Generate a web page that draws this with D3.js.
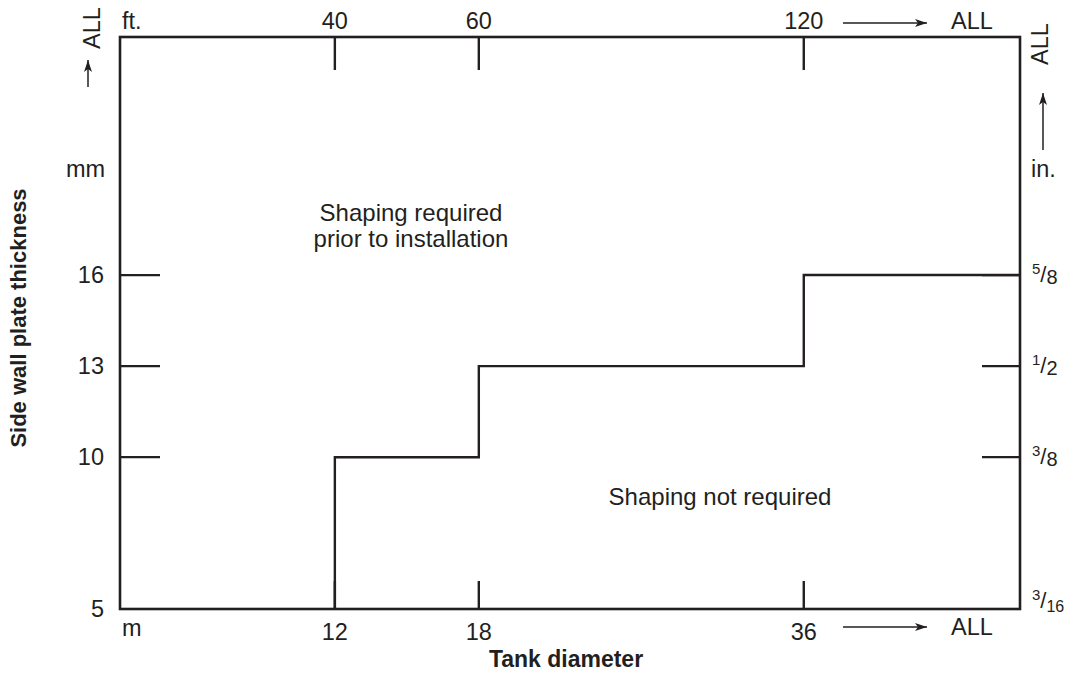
<!DOCTYPE html>
<html><head><meta charset="utf-8">
<script src="https://cdn.jsdelivr.net/npm/d3@7"></script>
<style>
body{margin:0;background:#fff;}
text{font-family:"Liberation Sans",Arial,Helvetica,sans-serif;fill:#231f20;}
</style></head>
<body><svg id="c" width="1068" height="673"></svg>
<script>
// ---- data ----
const diameterM = [12, 18, 36];            // step thresholds (m)
const diameterFt = ["40", "60", "120"];    // top-axis labels (ft)
const thicknessMm = [10, 13, 16];          // step thickness (mm)
const yTickMm = [5, 10, 13, 16];
const yTickIn = [["3","16"], ["3","8"], ["1","2"], ["5","8"]];
const xDomain = [5.3, 51.4];
const yDomain = [5, 23.84];

const W = 1068, H = 673;
const m = {l:120, r:48, t:37, b:64};
const svg = d3.select("#c");
const ink = "#231f20";

const x = d3.scalePow().exponent(0.5).domain(xDomain).range([m.l, W - m.r]);
const y = d3.scaleLinear().domain(yDomain).range([H - m.b, m.t]);
const x0 = x.range()[0], x1 = x.range()[1], y0 = y.range()[0], y1 = y.range()[1];

// frame
svg.append("rect").attr("x", x0).attr("y", y1).attr("width", x1 - x0).attr("height", y0 - y1)
  .attr("fill", "none").attr("stroke", ink).attr("stroke-width", 2.6);

// left ticks (inward)
svg.append("g").selectAll("line").data(thicknessMm).join("line")
  .attr("x1", x0).attr("x2", x0 + 40).attr("y1", d => y(d)).attr("y2", d => y(d))
  .attr("stroke", ink).attr("stroke-width", 2.2);
// right ticks (inward)
svg.append("g").selectAll("line").data(thicknessMm).join("line")
  .attr("x1", x1 - 38).attr("x2", x1).attr("y1", d => y(d)).attr("y2", d => y(d))
  .attr("stroke", ink).attr("stroke-width", 2.2);
// top ticks
svg.append("g").selectAll("line").data(diameterM).join("line")
  .attr("x1", d => x(d)).attr("x2", d => x(d)).attr("y1", y1).attr("y2", y1 + 33)
  .attr("stroke", ink).attr("stroke-width", 2.4);
// bottom ticks
svg.append("g").selectAll("line").data(diameterM).join("line")
  .attr("x1", d => x(d)).attr("x2", d => x(d)).attr("y1", y0).attr("y2", y0 - 28)
  .attr("stroke", ink).attr("stroke-width", 2.4);

// step line
const pts = [[diameterM[0], yDomain[0]]].concat(diameterM.map((d, i) => [d, thicknessMm[i]]))
  .concat([[xDomain[1], thicknessMm[thicknessMm.length - 1]]]);
const line = d3.line().x(d => x(d[0])).y(d => y(d[1])).curve(d3.curveStepAfter);
svg.append("path").attr("d", line(pts)).attr("fill", "none").attr("stroke", ink).attr("stroke-width", 2.4);

// arrow marker
svg.append("defs").append("marker").attr("id", "ah").attr("viewBox", "0 0 12 8")
  .attr("refX", 12).attr("refY", 4).attr("markerWidth", 12).attr("markerHeight", 8)
  .attr("markerUnits", "userSpaceOnUse").attr("orient", "auto")
  .append("path").attr("d", "M0,0L12,4L0,8L3,4Z").attr("fill", ink);

const fs = 23.5;
// left mm labels
svg.append("g").selectAll("text").data(yTickMm).join("text")
  .attr("x", 104).attr("y", d => y(d)).attr("dy", "0.35em").attr("text-anchor", "end")
  .attr("font-size", fs).text(d => d);
svg.append("text").attr("x", 66).attr("y", y(19.5)).attr("dy", "0.35em").attr("font-size", fs).text("mm");
// left ALL + arrow
svg.append("text").attr("transform", `translate(100,28) rotate(-90)`).attr("text-anchor", "middle")
  .attr("font-size", fs).text("ALL");
svg.append("line").attr("x1", 88).attr("x2", 88).attr("y1", 87).attr("y2", 60)
  .attr("stroke", ink).attr("stroke-width", 1.5).attr("marker-end", "url(#ah)");

// right in labels (fractions)
const rt = svg.append("g").selectAll("text").data(yTickMm).join("text")
  .attr("x", 1032).attr("y", (d, i) => y(d) + (i === 0 ? -1 : 7)).attr("font-size", fs);
rt.each(function(d, i) {
  const t = d3.select(this), f = yTickIn[i];
  t.append("tspan").attr("font-size", 15).attr("dy", -8).text(f[0]);
  t.append("tspan").attr("font-size", 22).attr("dy", 8).text("/");
  t.append("tspan").attr("font-size", f[1].length > 1 ? 16 : 20).attr("dy", f[1].length > 1 ? 4 : 2).text(f[1]);
});
svg.append("text").attr("x", 1031).attr("y", y(19.5)).attr("dy", "0.35em").attr("font-size", fs).text("in.");
svg.append("text").attr("transform", `translate(1048,44) rotate(-90)`).attr("text-anchor", "middle")
  .attr("font-size", fs).text("ALL");
svg.append("line").attr("x1", 1043).attr("x2", 1043).attr("y1", 150).attr("y2", 93)
  .attr("stroke", ink).attr("stroke-width", 1.5).attr("marker-end", "url(#ah)");

// top ft labels
svg.append("g").selectAll("text").data(diameterM).join("text")
  .attr("x", d => x(d)).attr("y", 29).attr("text-anchor", "middle").attr("font-size", fs)
  .text((d, i) => diameterFt[i]);
svg.append("text").attr("x", 122).attr("y", 29).attr("font-size", fs).text("ft.");
svg.append("line").attr("x1", 843).attr("x2", 927).attr("y1", 23).attr("y2", 23)
  .attr("stroke", ink).attr("stroke-width", 1.5).attr("marker-end", "url(#ah)");
svg.append("text").attr("x", 972).attr("y", 29).attr("text-anchor", "middle").attr("font-size", fs).text("ALL");

// bottom m labels
svg.append("g").selectAll("text").data(diameterM).join("text")
  .attr("x", d => x(d)).attr("y", 640).attr("text-anchor", "middle").attr("font-size", fs).text(d => d);
svg.append("text").attr("x", 122).attr("y", 636).attr("font-size", fs).text("m");
svg.append("line").attr("x1", 843).attr("x2", 927).attr("y1", 627).attr("y2", 627)
  .attr("stroke", ink).attr("stroke-width", 1.5).attr("marker-end", "url(#ah)");
svg.append("text").attr("x", 972).attr("y", 635).attr("text-anchor", "middle").attr("font-size", fs).text("ALL");

// axis titles
svg.append("text").attr("x", 566).attr("y", 667).attr("text-anchor", "middle")
  .attr("font-size", 23).attr("font-weight", "bold").text("Tank diameter");
svg.append("text").attr("transform", `translate(26,318) rotate(-90)`).attr("text-anchor", "middle")
  .attr("font-size", 22).attr("font-weight", "bold").text("Side wall plate thickness");

// region labels
svg.append("text").attr("x", 411).attr("y", 221).attr("text-anchor", "middle").attr("font-size", 24)
  .text("Shaping required");
svg.append("text").attr("x", 411).attr("y", 247).attr("text-anchor", "middle").attr("font-size", 24)
  .text("prior to installation");
svg.append("text").attr("x", 720).attr("y", 505).attr("text-anchor", "middle").attr("font-size", 24)
  .text("Shaping not required");
</script></body></html>
